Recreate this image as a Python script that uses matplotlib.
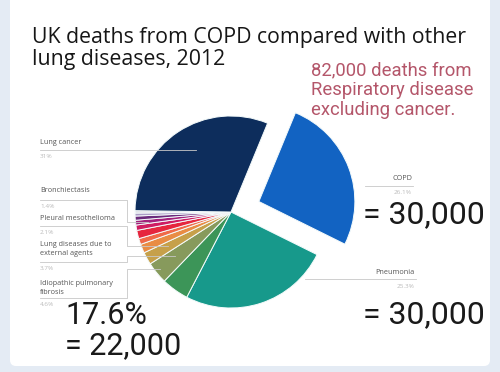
import matplotlib.pyplot as plt
from matplotlib.patches import FancyBboxPatch

# Shares of UK lung-disease deaths (%), clockwise from COPD
names = ["COPD", "Pneumonia", "Idiopathic pulmonary fibrosis",
         "Lung diseases due to external agents", "Pleural mesothelioma",
         "Other 1", "Other 2", "Bronchiectasis", "Other 3", "Other 4",
         "Other 5", "Other 6", "Other 7", "Lung cancer"]
shares = [26.1, 25.3, 4.6, 3.7, 2.1, 1.5, 1.0, 1.4, 0.9, 0.8, 0.7, 0.5, 0.4, 31.0]
colors = ["#1263c2", "#17998b", "#3c9558", "#879a5c", "#c6a04a", "#e98c44",
          "#f06a48", "#e6263e", "#cf1c62", "#a3207c", "#6b2b7c", "#ab9cc6",
          "#dcdce4", "#0d2d5c"]

W, H = 500, 372
R = 96
# explode is in data units here (pie drawn in pixel-like coords)
explode = [0.31 * R] + [0] * (len(shares) - 1)


def Y(y):
    return H - y


fig = plt.figure(figsize=(5, 3.72), dpi=100)
fig.patch.set_facecolor("#e4ebf4")
ax = fig.add_axes([0, 0, 1, 1])

# white card
ax.add_patch(FancyBboxPatch((10, Y(366)), 480, 372, boxstyle="round,pad=0,rounding_size=6",
                            facecolor="white", edgecolor="none", zorder=0))

ax.pie(shares, colors=colors, explode=explode, startangle=67.6, counterclock=False,
       center=(231, Y(212)), radius=R,
       wedgeprops=dict(linewidth=0.7, edgecolor="#f4fbfb"))
ax.set_xlim(0, W)
ax.set_ylim(0, H)
ax.set_aspect("equal")
ax.axis("off")

title_font = "Open Sans"
num_font = "Roboto"

ttl = dict(fontsize=15.3, family=title_font, color="#161616", va="baseline", ha="left")
ax.text(32, Y(43), "UK deaths from COPD compared with other", **ttl)
ax.text(32, Y(65), "lung diseases, 2012", **ttl)
ax.text(311, Y(61), "82,000 deaths from\nRespiratory disease\nexcluding cancer.",
        fontsize=13.3, family=num_font, color="#b4566a", va="top", ha="left",
        linespacing=1.16)

ax.text(363, Y(215), "= 30,000", fontsize=23, family=num_font, color="#1a1a1a",
        va="center", ha="left")
ax.text(363, Y(315), "= 30,000", fontsize=23, family=num_font, color="#1a1a1a",
        va="center", ha="left")
ax.text(65, Y(316), "17.6%", fontsize=22, family=num_font, color="#1a1a1a",
        va="center", ha="left")
ax.text(65, Y(346), "= 22,000", fontsize=22, family=num_font, color="#1a1a1a",
        va="center", ha="left")

lab = dict(fontsize=5.2, family=title_font, color="#555555")
pct = dict(fontsize=4.6, family=title_font, color="#bbbbbb")
line = dict(color="#c8c8c8", lw=0.6)

# Lung cancer
ax.text(40, Y(143), "Lung cancer", va="center", **lab)
ax.text(40, Y(156), "31%", va="center", **pct)
ax.plot([40, 196], [Y(150), Y(150)], **line)

# COPD and Pneumonia on the right
ax.text(412, Y(179), "COPD", va="center", ha="right", **lab)
ax.text(412, Y(193), "26.1%", va="center", ha="right", **pct)
ax.plot([365, 413], [Y(186), Y(186)], **line)
ax.text(415, Y(272), "Pneumonia", va="center", ha="right", **lab)
ax.text(415, Y(286), "25.3%", va="center", ha="right", **pct)
ax.plot([305, 416], [Y(279), Y(279)], **line)

# Left-hand labels with elbow leaders
left_labels = [("Bronchiectasis", "1.4%", 190, 200, 222, 148),
               ("Pleural mesothelioma", "2.1%", 218, 226, 246, 168),
               ("Lung diseases due to\nexternal agents", "3.7%", 249, 262, 256, 175),
               ("Idiopathic pulmonary\nfibrosis", "4.6%", 288, 298, 269, 160)]
for text, p, ty, uy, py, px in left_labels:
    ax.text(40, Y(ty), text, va="center", linespacing=1.3, **lab)
    ax.text(40, Y(uy + 7), p, va="center", **pct)
    ax.plot([40, 127, 127, px], [Y(uy), Y(uy), Y(py), Y(py)], **line)

fig.savefig("out.png", dpi=100, facecolor=fig.get_facecolor())
